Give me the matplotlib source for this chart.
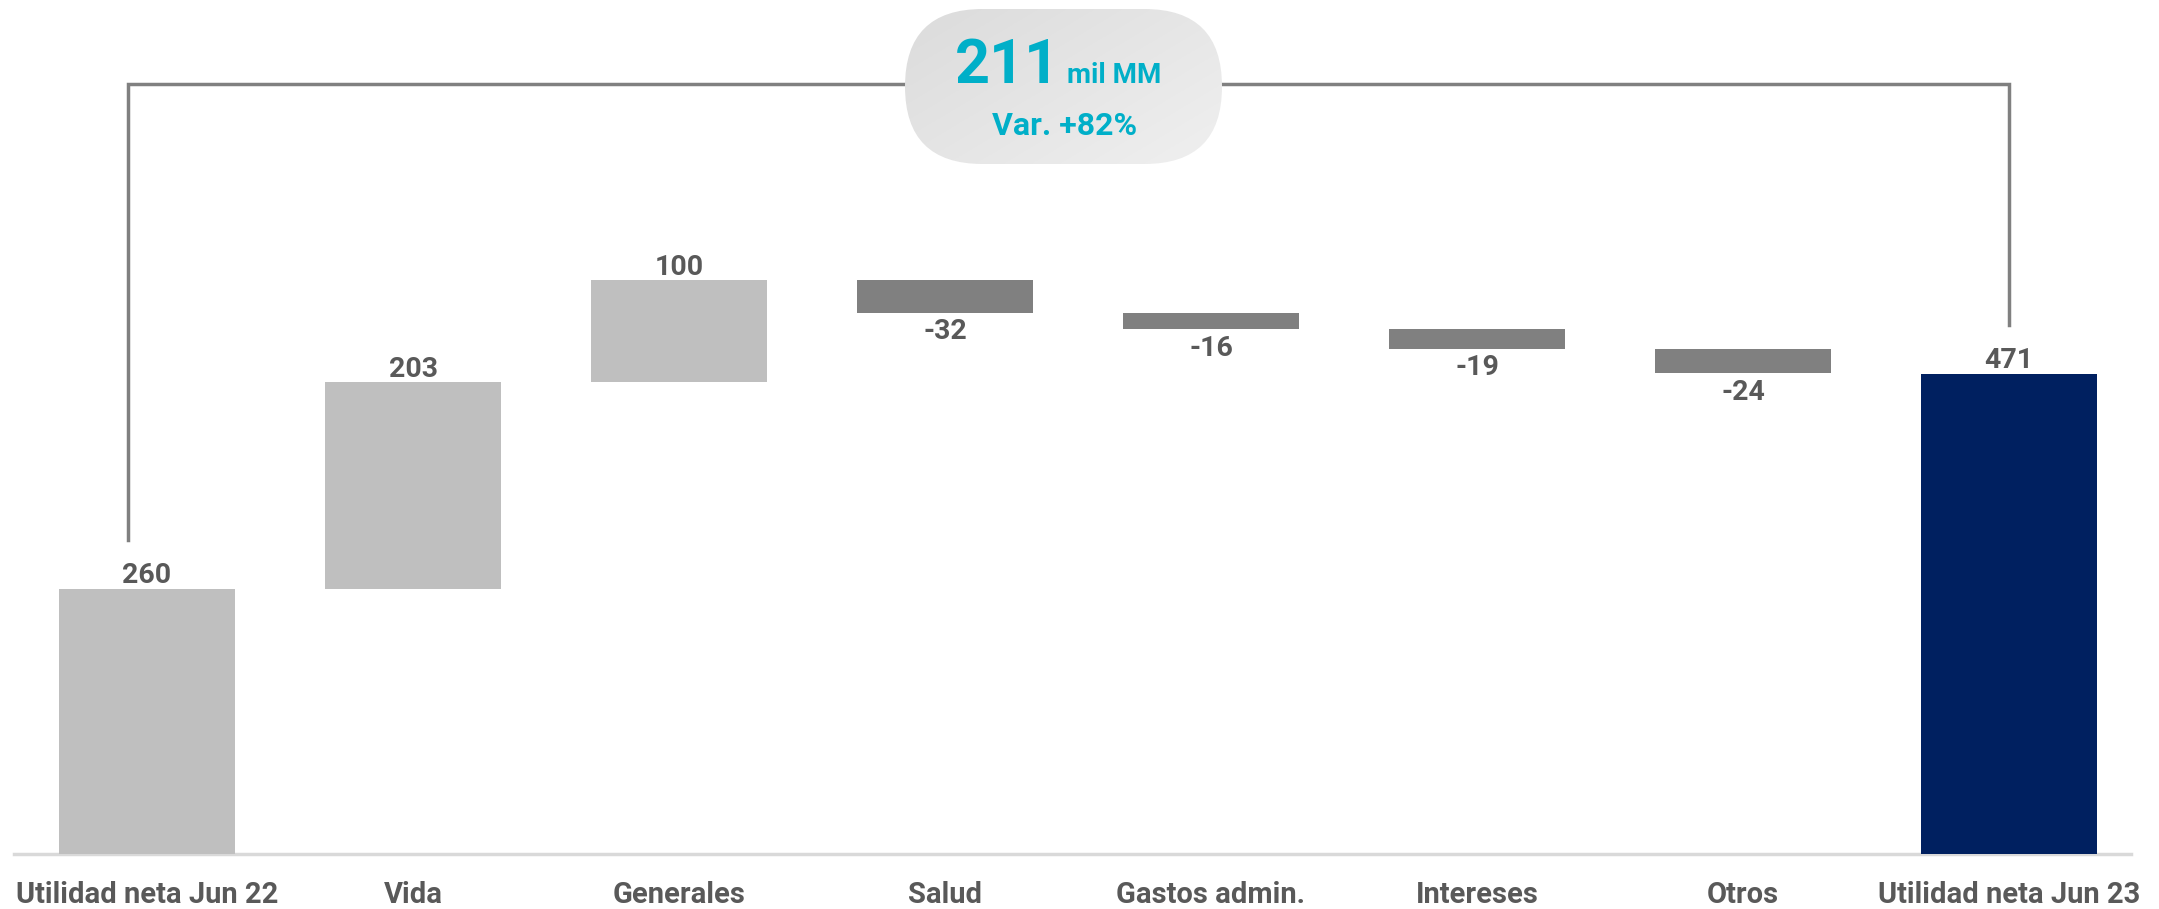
import numpy as np
import matplotlib.pyplot as plt
from matplotlib.patches import FancyBboxPatch

categories = ["Utilidad neta Jun 22", "Vida", "Generales", "Salud",
              "Gastos admin.", "Intereses", "Otros", "Utilidad neta Jun 23"]
changes = [260, 203, 100, -32, -16, -19, -24, 471]
labels = ["260", "203", "100", "-32", "-16", "-19", "-24", "471"]
total_var = "211"
total_unit = "mil MM"
var_pct = "Var. +82%"

FONT = ["Roboto", "DejaVu Sans"]
TXT = "#595959"
TEAL = "#00AFC8"

W, H = 2159, 909
fig = plt.figure(figsize=(W / 100, H / 100), dpi=100)
ax = fig.add_axes([0, (H - 854) / H, 1, 854 / H])
ax.set_xlim(-147 / 266, (W - 147) / 266)
ax.set_ylim(0, 838)
ax.axis("off")

# waterfall bottoms/heights
x = np.arange(len(categories))
bottoms, heights, colors = [], [], []
run = 0
for i, v in enumerate(changes):
    if i == 0:
        bottoms.append(0); heights.append(v); colors.append("#BFBFBF"); run = v
    elif i == len(changes) - 1:
        bottoms.append(0); heights.append(v); colors.append("#002060")
    elif v >= 0:
        bottoms.append(run); heights.append(v); colors.append("#BFBFBF"); run += v
    else:
        bottoms.append(run + v); heights.append(-v); colors.append("#808080"); run += v

ax.bar(x, heights, bottom=bottoms, width=0.658, color=colors, zorder=2)

for i, v in enumerate(changes):
    if v >= 0:
        ax.annotate(labels[i], (x[i], bottoms[i] + heights[i]), xytext=(0, 4),
                    textcoords="offset points", ha="center", va="baseline",
                    fontsize=20.5, fontweight="bold", color=TXT, family=FONT)
    else:
        ax.annotate(labels[i], (x[i], bottoms[i]), xytext=(0, -4),
                    textcoords="offset points", ha="center", va="top",
                    fontsize=20.5, fontweight="bold", color=TXT, family=FONT)

for i, c in enumerate(categories):
    ax.annotate(c, (x[i], 0), xytext=(0, -35), textcoords="offset points",
                ha="center", va="baseline", fontsize=21, fontweight="bold",
                color=TXT, family=FONT, annotation_clip=False)

# baseline
ax.axhline(0, xmin=14 / W, xmax=2131 / W, color="#D9D9D9", lw=2.5, zorder=1, clip_on=False)

# bracket
top_y = 756
ax.plot([-0.07, -0.07, x[-1], x[-1]],
        [changes[0] + 48, top_y, top_y, changes[-1] + 48],
        color="#808080", lw=2.5, zorder=3, solid_joinstyle="miter")

# pill with gradient
px0, px1, py0, py1 = 905, 1222, 9, 164
r = (py1 - py0) / 2
pill = FancyBboxPatch(((px0 + r) / 100, (H - py1 + r) / 100),
                      (px1 - px0 - 2 * r) / 100, 0,
                      boxstyle="round,pad=%f" % (r / 100),
                      transform=fig.dpi_scale_trans)
gax = fig.add_axes([px0 / W, 1 - py1 / H, (px1 - px0) / W, (py1 - py0) / H])
gax.axis("off")
gx = np.linspace(0, 1, 200)
gy = np.linspace(0, 1, 100)
G = 0.55 * gx[None, :] + 0.45 * gy[:, None]
shade = 0.86 + 0.08 * G
im = gax.imshow(np.dstack([shade, shade, shade]), aspect="auto",
                extent=(0, 1, 0, 1), origin="upper")
gax.set_xlim(0, 1); gax.set_ylim(0, 1)
im.set_clip_path(pill)

fig.text(1060 / W, 1 - 83 / H, total_var, ha="right", va="baseline", fontsize=44,
         fontweight="bold", color=TEAL, family=FONT, zorder=10)
fig.text(1067 / W, 1 - 83 / H, total_unit, ha="left", va="baseline", fontsize=20,
         fontweight="bold", color=TEAL, family=FONT, zorder=10)
fig.text(1065 / W, 1 - 135 / H, var_pct, ha="center", va="baseline", fontsize=23,
         fontweight="bold", color=TEAL, family=FONT, zorder=10)

fig.savefig("out.png", dpi=100, facecolor="white")
